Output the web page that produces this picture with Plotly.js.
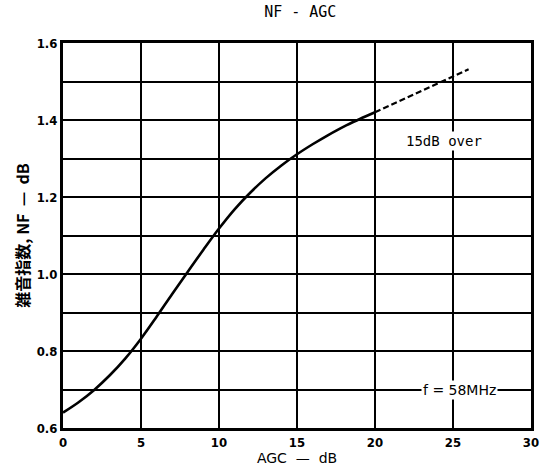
<!DOCTYPE html>
<html><head><meta charset="utf-8">
<script src="https://cdn.plot.ly/plotly-3.0.1.min.js"></script>
<style>html,body{margin:0;padding:0;background:#fff}</style>
</head><body>
<div id="chart" style="width:541px;height:466px"></div>
<script>
// Solid part of the NF-AGC curve
const agcSolid = [0, 1, 2, 3, 4, 5, 6, 7, 8, 9, 10, 11, 12, 13, 14, 15, 16, 17, 18, 19, 20];
const nfSolid  = [0.64, 0.667, 0.699, 0.737, 0.781, 0.832, 0.889, 0.948, 1.006, 1.063, 1.118, 1.168, 1.211, 1.249, 1.282, 1.311, 1.337, 1.361, 1.383, 1.402, 1.42];
// Dashed extrapolated part
const agcDash = [20, 22, 24, 26];
const nfDash  = [1.42, 1.457, 1.494, 1.532];

const yTickVals = [0.6, 0.7, 0.8, 0.9, 1.0, 1.1, 1.2, 1.3, 1.4, 1.5, 1.6];
const yTickText = ["0.6", "", "0.8", "", "1.0", "", "1.2", "", "1.4", "", "1.6"];
const xTickVals = [0, 5, 10, 15, 20, 25, 30];
const xTickText = ["0", "5", "10", "15", "20", "25", "30"];

const traces = [
  {x: agcSolid, y: nfSolid, mode: 'lines', line: {color: '#000', width: 2.6, shape: 'spline', smoothing: 1}, hoverinfo: 'skip'},
  {x: agcDash, y: nfDash, mode: 'lines', line: {color: '#000', width: 2.2, dash: '6px,3px'}, hoverinfo: 'skip'}
];

const tickFont = {family: 'DejaVu Sans Condensed', size: 13, color: '#000', weight: 'bold'};

const layout = {
  width: 541, height: 466,
  margin: {l: 63, r: 10, t: 43, b: 38},
  paper_bgcolor: '#fff', plot_bgcolor: '#fff',
  showlegend: false,
  title: {text: 'NF - AGC', font: {family: 'DejaVu Sans Mono', size: 15, color: '#000'}, x: 0.555, xanchor: 'center', y: 0.985, yanchor: 'top'},
  xaxis: {
    range: [0, 30], tickvals: xTickVals, ticktext: xTickText, tickfont: tickFont,
    ticklabeloverflow: 'allow',
    showgrid: true, gridcolor: '#000', gridwidth: 2,
    showline: true, linecolor: '#000', linewidth: 3, mirror: true,
    ticks: '', ticklen: 0, zeroline: false,
    title: {text: 'AGC  —  dB', font: {family: 'DejaVu Sans', size: 14, color: '#000'}, standoff: 2}
  },
  yaxis: {
    range: [0.6, 1.6], tickvals: yTickVals, ticktext: yTickText, tickfont: tickFont,
    showgrid: true, gridcolor: '#000', gridwidth: 2,
    showline: true, linecolor: '#000', linewidth: 3, mirror: true,
    ticks: '', ticklen: 0, zeroline: false,
    title: {text: '雑音指数, NF  —  dB', font: {family: 'Noto Sans CJK JP', size: 16, color: '#000', weight: 'bold'}, standoff: 4}
  },
  annotations: [
    {x: 24.4, y: 1.345, xref: 'x', yref: 'y', text: '15dB over', showarrow: false,
     font: {family: 'DejaVu Sans Mono', size: 14, color: '#000'}, bgcolor: '#fff'},
    {x: 25.4, y: 0.7, xref: 'x', yref: 'y', text: 'f = 58MHz', showarrow: false,
     font: {family: 'DejaVu Sans', size: 14, color: '#000'}, bgcolor: '#fff'}
  ]
};

Plotly.newPlot('chart', traces, layout, {staticPlot: true, displayModeBar: false});
</script>
</body></html>
